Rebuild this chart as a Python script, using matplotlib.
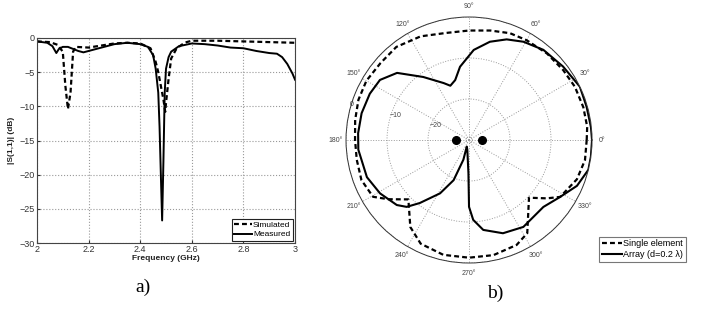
import numpy as np
import matplotlib.pyplot as plt

# ---- a) |S11| data (GHz, dB) ----
f_sim = [2.0, 2.05, 2.08, 2.10, 2.11, 2.12, 2.13, 2.14, 2.15, 2.2, 2.3, 2.35, 2.4, 2.44,
         2.46, 2.47, 2.48, 2.49, 2.497, 2.50, 2.51, 2.52, 2.54, 2.56, 2.58, 2.6, 2.7, 2.8, 2.9, 3.0]
s_sim = [-0.5, -0.6, -1.0, -2.0, -7.0, -10.4, -8.0, -2.0, -1.3, -1.4, -0.8, -0.7, -0.8, -1.5,
         -3.5, -5.0, -7.0, -9.0, -10.8, -9.5, -6.0, -3.0, -1.6, -1.0, -0.6, -0.4, -0.4, -0.5, -0.6, -0.7]

f_meas = [2.0, 2.04, 2.06, 2.075, 2.085, 2.10, 2.12, 2.14, 2.16, 2.18, 2.2, 2.25, 2.3, 2.35,
          2.40, 2.43, 2.45, 2.46, 2.47, 2.475, 2.48, 2.485, 2.49, 2.495, 2.50, 2.51, 2.52,
          2.55, 2.6, 2.65, 2.7, 2.75, 2.8, 2.85, 2.9, 2.93, 2.95, 2.97, 2.99, 3.0]
s_meas = [-0.5, -0.7, -1.2, -2.2, -1.6, -1.3, -1.3, -1.6, -1.9, -2.1, -1.9, -1.4, -0.9, -0.7,
          -0.9, -1.3, -2.5, -4.5, -8.0, -13.0, -20.0, -26.7, -18.0, -8.0, -4.5, -2.8, -2.0,
          -1.2, -0.8, -0.9, -1.1, -1.4, -1.5, -1.9, -2.2, -2.3, -2.8, -3.8, -5.2, -6.1]

# ---- b) radiation pattern (deg, dB) ----
ang_single = [0, 6.4, 16, 26.7, 36.6, 48, 60, 69, 79, 90, 102, 115, 128, 139, 150, 160, 170,
              180, 190, 200.4, 210.6, 216.3, 224.4, 236, 245, 257.4, 270, 282, 294.4, 302,
              316.1, 323.1, 328, 340, 350.2, 360]
db_single = [-1.3, -1.0, -1.0, -1.1, -1.4, -1.6, -1.9, -2.1, -2.8, -3.3, -3.3, -2.1, -1.2, -1.4,
             -1.1, -1.3, -1.8, -2.2, -2.2, -2.0, -2.8, -5.6, -9.3, -4.4, -2.1, -1.3, -1.3, -1.3,
             -1.9, -3.2, -9.7, -6.3, -3.8, -2.0, -1.3, -1.3]

ang_array = [0, 6, 15.8, 25.7, 38, 50.5, 61, 69.5, 78, 87, 97, 103, 109, 114, 126, 137, 146,
             155, 166, 176.5, 185, 200, 211, 222, 227, 232, 241.5, 249, 254, 251, 260, 269,
             270, 273, 279, 290, 302, 318, 328, 337, 346, 352.3, 360]
db_array = [0, -0.1, -0.2, 0, -0.9, -1.5, -2.6, -3.8, -5.5, -8, -12, -15, -16, -14.8, -11, -6.0,
            -3.8, -3.3, -3.0, -2.9, -2.9, -3.5, -4.7, -6.3, -7.7, -10.5, -15.2, -19.5, -25,
            -28.3, -27.6, -21.9, -13.7, -10.5, -7.8, -5.8, -5.0, -5.6, -3.8, -1.4, 0, 0, 0]

plt.rcParams['font.family'] = ['Liberation Sans', 'DejaVu Sans']

fig = plt.figure(figsize=(7.07, 3.13), dpi=100)

# ---------- a) ----------
ax = fig.add_axes([0.0523, 0.2236, 0.365, 0.655])
ax.plot(f_sim, s_sim, 'k--', lw=1.6, dashes=(2.2, 1.4), label='Simulated')
ax.plot(f_meas, s_meas, 'k-', lw=1.4, label='Measured')
ax.set_xlim(2, 3)
ax.set_ylim(-30, 0)
ax.set_xticks([2, 2.2, 2.4, 2.6, 2.8, 3])
ax.set_xticklabels(['2', '2.2', '2.4', '2.6', '2.8', '3'])
ax.set_yticks([0, -5, -10, -15, -20, -25, -30])
ax.grid(True, ls=':', color='#999999', lw=0.8)
ax.tick_params(labelsize=6.5, colors='#333333', length=2, direction='in', pad=1.5)
for s in ax.spines.values():
    s.set_color('#444444')
    s.set_linewidth(0.8)
ax.set_xlabel('Frequency (GHz)', fontsize=6, fontweight='bold', labelpad=1, color='#222222')
ax.set_ylabel('|S(1,1)| (dB)', fontsize=6, fontweight='bold', labelpad=3, color='#222222')
leg = ax.legend(loc='lower right', fontsize=6, handlelength=2.2, handletextpad=0.1,
                borderpad=0.25, labelspacing=0.2, fancybox=False, framealpha=1,
                borderaxespad=0.3)
leg.get_frame().set_edgecolor('#222222')
leg.get_frame().set_linewidth(0.8)
fig.text(0.202, 0.083, 'a)', fontsize=14, family='Liberation Serif', ha='center', va='center')

# ---------- b) ----------
pax = fig.add_axes([0.4894, 0.1597, 0.348, 0.786], projection='polar')
pax.plot(np.radians(ang_single), db_single, 'k--', lw=1.6, dashes=(2.2, 1.4), label='Single element')
pax.plot(np.radians(ang_array), db_array, 'k-', lw=1.5, label='Array (d=0.2 λ)')
pax.plot(np.radians([0, 180]), [-26.8, -26.8], 'ko', ms=5.5, ls='none')
pax.set_ylim(-30, 0)
pax.set_yticks([-20, -10, 0])
pax.set_yticklabels(['\u221220', '\u221210', '0'])
pax.set_rlabel_position(165)
pax.set_xticks(np.radians(np.arange(0, 360, 30)))
pax.set_xticklabels([f'{a}°' for a in range(0, 360, 30)])
pax.tick_params(axis='x', labelsize=5, colors='#444444', pad=-3)
pax.tick_params(axis='y', labelsize=5, colors='#444444')
pax.grid(True, ls=':', color='#999999', lw=0.7)
pax.spines['polar'].set_linewidth(0.7)
pax.spines['polar'].set_color('#333333')
pax.plot(np.linspace(0, 2 * np.pi, 60), np.full(60, -29.2), ':', color='#999999', lw=0.6)

h, l = pax.get_legend_handles_labels()
leg2 = fig.legend(h, l, loc='upper left', bbox_to_anchor=(0.841, 0.258), fontsize=6.5,
                  handlelength=2.2, handletextpad=0.2, borderpad=0.3, labelspacing=0.15,
                  fancybox=False, framealpha=1)
leg2.get_frame().set_edgecolor('#777777')
leg2.get_frame().set_linewidth(0.8)
fig.text(0.700, 0.063, 'b)', fontsize=14, family='Liberation Serif', ha='center', va='center')

fig.savefig('out.png', dpi=100)
